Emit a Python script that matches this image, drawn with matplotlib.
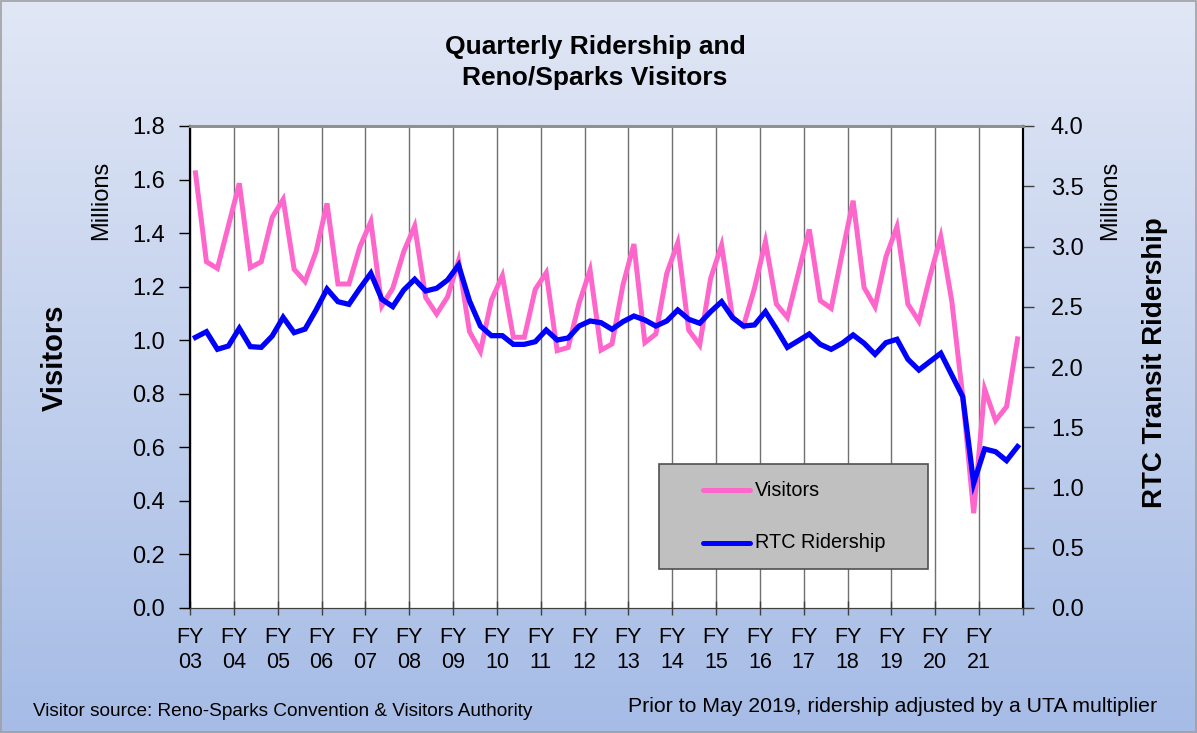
import numpy as np
import matplotlib
matplotlib.use("Agg")
import matplotlib.pyplot as plt
from matplotlib.patches import Rectangle

plt.rcParams['font.family'] = ['Liberation Sans', 'DejaVu Sans']

# Données trimestrielles FY03 T1 -> FY21 T4 (en millions)
years = ['03', '04', '05', '06', '07', '08', '09', '10', '11', '12',
         '13', '14', '15', '16', '17', '18', '19', '20', '21']

visitors = [1.625, 1.293, 1.268, 1.427, 1.586, 1.271, 1.293, 1.459,
            1.526, 1.265, 1.219, 1.331, 1.511, 1.210, 1.210, 1.349,
            1.443, 1.128, 1.194, 1.331, 1.426, 1.160, 1.098, 1.162,
            1.297, 1.032, 0.958, 1.150, 1.241, 1.011, 1.011, 1.190,
            1.252, 0.961, 0.973, 1.138, 1.262, 0.963, 0.986, 1.206,
            1.359, 0.991, 1.023, 1.250, 1.364, 1.038, 0.982, 1.231,
            1.355, 1.085, 1.053, 1.194, 1.368, 1.135, 1.085, 1.250,
            1.414, 1.148, 1.119, 1.324, 1.521, 1.197, 1.125, 1.312,
            1.424, 1.135, 1.071, 1.237, 1.386, 1.147, 0.790, 0.354,
            0.817, 0.700, 0.752, 1.005]

ridership = [2.246, 2.293, 2.147, 2.174, 2.321, 2.169, 2.163, 2.257,
             2.412, 2.285, 2.315, 2.473, 2.647, 2.542, 2.520, 2.653,
             2.778, 2.562, 2.501, 2.639, 2.728, 2.631, 2.653, 2.722,
             2.846, 2.548, 2.340, 2.260, 2.260, 2.188, 2.188, 2.210,
             2.307, 2.224, 2.241, 2.340, 2.382, 2.368, 2.313, 2.376,
             2.423, 2.390, 2.340, 2.382, 2.473, 2.396, 2.363, 2.459,
             2.542, 2.410, 2.340, 2.349, 2.459, 2.315, 2.163, 2.218,
             2.274, 2.188, 2.147, 2.197, 2.266, 2.197, 2.105, 2.202,
             2.230, 2.064, 1.975, 2.045, 2.114, 1.934, 1.754, 1.035,
             1.320, 1.297, 1.223, 1.339]

pink = '#ff66cc'
blue = '#0000ff'

fig = plt.figure(figsize=(11.97, 7.33), dpi=100)

# Fond dégradé
bg = fig.add_axes([0, 0, 1, 1], zorder=-10)
grad = np.linspace(0, 1, 256).reshape(-1, 1)
top = np.array([0.882, 0.906, 0.961])
bot = np.array([0.651, 0.737, 0.902])
img = top + (bot - top) * grad[:, :, None]
bg.imshow(img, aspect='auto', extent=[0, 1, 0, 1])
bg.add_patch(Rectangle((0.001, 0.002), 0.998, 0.996, fill=False,
                       ec='#a0a0a0', lw=1.2, transform=bg.transAxes))
bg.axis('off')

ax = fig.add_axes([190 / 1197, 1 - 608 / 733, 833 / 1197, 482 / 733])
ax.set_facecolor('white')
x = np.arange(len(visitors)) + 0.5
ax.plot(x, visitors, color=pink, lw=3.6, solid_joinstyle='miter')
ax.set_xlim(0, len(visitors))
ax.set_ylim(0, 1.8)
ax.set_yticks(np.arange(0, 1.81, 0.2))
ax.set_yticklabels([f'{v:.1f}' for v in np.arange(0, 1.81, 0.2)])

ticks = np.arange(0, len(visitors) + 1, 4)
ax.set_xticks(ticks)
ax.set_xticklabels([f'FY\n{y}' for y in years] + [''], linespacing=1.25)
ax.grid(axis='x', color='#707070', lw=1)
ax.set_axisbelow(True)
ax.tick_params(axis='x', direction='inout', length=10, width=1,
               labelsize=15.5, pad=9, color='#404040')
ax.tick_params(axis='y', direction='out', length=8, width=1,
               labelsize=17, pad=10)

ax2 = ax.twinx()
ax2.plot(x, ridership, color=blue, lw=3.8, solid_joinstyle='miter')
ax2.set_ylim(0, 4.0)
ax2.set_yticks(np.arange(0, 4.01, 0.5))
ax2.set_yticklabels([f'{v:.1f}' for v in np.arange(0, 4.01, 0.5)])
ax2.tick_params(axis='y', direction='out', length=8, width=1,
                labelsize=17, pad=12, color='#404040')

for a in (ax, ax2):
    a.spines['top'].set_color('#909090')
    a.spines['top'].set_linewidth(2)
    a.spines['bottom'].set_color('#404040')
    a.spines['left'].set_color('black')
    a.spines['right'].set_color('black')
    a.spines['left'].set_linewidth(1.5)
    a.spines['right'].set_linewidth(1.5)

# Légende
lx0, lx1 = (659 - 190) / 833, (928 - 190) / 833
ly0, ly1 = (608 - 569) / 482, (608 - 464) / 482
ax2.add_patch(Rectangle((lx0, ly0), lx1 - lx0, ly1 - ly0, transform=ax2.transAxes,
                        fc='#c0c0c0', ec='#505050', lw=1.2, zorder=5))
hx0, hx1 = (703 - 190) / 833, (750 - 190) / 833
for yy, col, lab in [((608 - 490) / 482, pink, 'Visitors'),
                     ((608 - 543) / 482, blue, 'RTC Ridership')]:
    ax2.plot([hx0, hx1], [yy, yy], color=col, lw=3.6, transform=ax2.transAxes,
             zorder=6, solid_capstyle='round')
    ax2.text((755 - 190) / 833, yy, lab, transform=ax2.transAxes, fontsize=14.3,
             va='center', ha='left', zorder=6)

# Textes
fig.text(595 / 1197, 1 - 62.5 / 733, 'Quarterly Ridership and\nReno/Sparks Visitors',
         ha='center', va='center', fontsize=19, fontweight='bold', linespacing=1.38)
fig.text(55 / 1197, 1 - 358 / 733, 'Visitors', rotation=90, ha='center',
         va='center', fontsize=21, fontweight='bold')
fig.text(101 / 1197, 1 - 200 / 733, 'Millions', rotation=90, ha='center',
         va='center', fontsize=17)
fig.text(1110 / 1197, 1 - 200 / 733, 'Millions', rotation=90, ha='center',
         va='center', fontsize=17)
fig.text(1155 / 1197, 1 - 363 / 733, 'RTC Transit Ridership', rotation=90,
         ha='center', va='center', fontsize=20, fontweight='bold')
fig.text(33 / 1197, 1 - 712 / 733,
         'Visitor source: Reno-Sparks Convention & Visitors Authority',
         ha='left', va='center', fontsize=13.7)
fig.text(1157 / 1197, 1 - 707 / 733,
         'Prior to May 2019, ridership adjusted by a UTA multiplier',
         ha='right', va='center', fontsize=15.3)

fig.savefig('out.png', dpi=100)
